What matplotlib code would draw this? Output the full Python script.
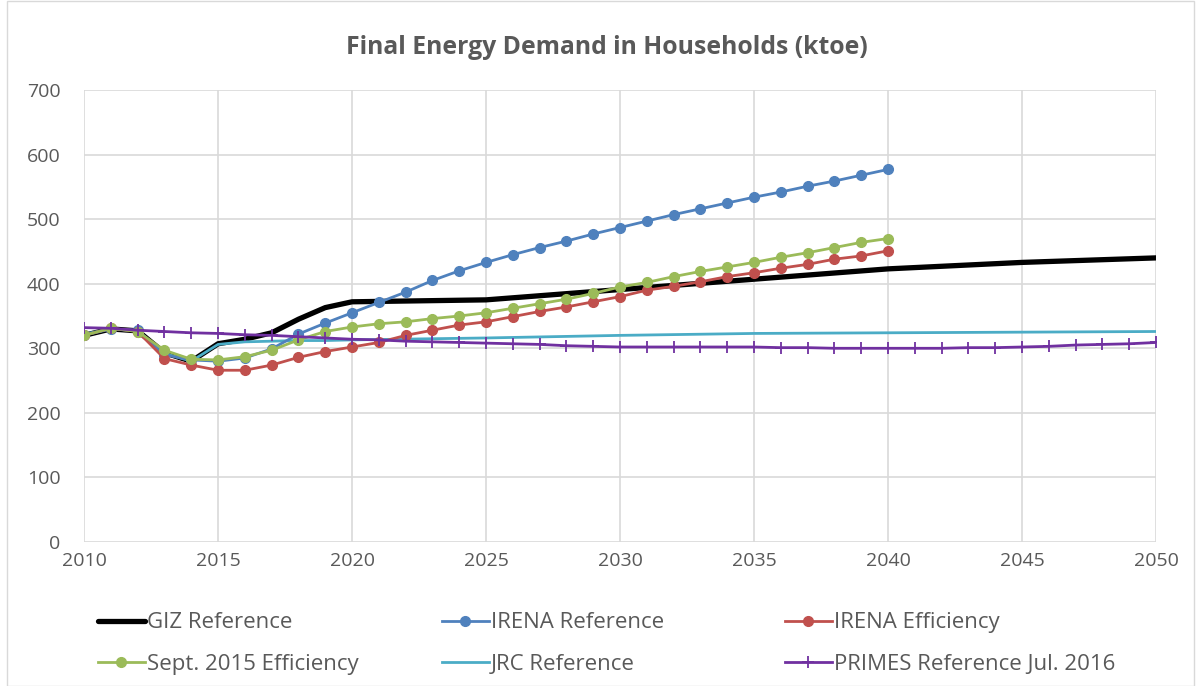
import matplotlib
matplotlib.use("Agg")
import matplotlib.pyplot as plt
from matplotlib.patches import Rectangle

plt.rcParams['font.family'] = ['Open Sans', 'DejaVu Sans']

# GIZ Reference (smooth black line)
giz_years = [2010, 2011, 2012, 2013, 2014, 2015, 2016, 2017, 2018, 2019, 2020,
             2025, 2030, 2035, 2040, 2045, 2050]
giz_vals = [320, 330, 327, 293, 280, 307, 314, 324, 345, 363, 372,
            375, 391, 407, 423, 433, 440]

# IRENA series, yearly 2010-2040
irena_years = list(range(2010, 2041))
irena_ref = [320, 330, 328, 290, 282, 280, 285, 299, 322, 339, 355,
             371, 387, 405, 420, 433, 445, 456, 466, 477, 487,
             497, 507, 516, 525, 534, 542, 551, 559, 568, 577]
irena_eff = [320, 331, 326, 284, 274, 266, 266, 274, 286, 295, 302,
             309, 320, 328, 336, 341, 349, 357, 364, 372, 380,
             390, 396, 403, 411, 417, 424, 430, 438, 443, 451]
sept_eff = [320, 331, 326, 297, 283, 282, 287, 297, 313, 326, 333,
            338, 341, 346, 350, 355, 362, 369, 376, 385, 395,
            402, 411, 419, 426, 433, 441, 448, 456, 464, 470]

# JRC Reference
jrc_years = [2010, 2011, 2012, 2013, 2014, 2015, 2016, 2017, 2018, 2019, 2020,
             2025, 2030, 2035, 2040, 2045, 2050]
jrc_vals = [322, 330, 327, 292, 280, 306, 310, 311, 312, 312, 313,
            316, 320, 323, 324, 325, 326]

# PRIMES Reference Jul. 2016, yearly 2010-2050
primes_years = list(range(2010, 2051))
primes_vals = [332, 331, 328, 326, 324, 323, 321, 320, 318, 316, 314,
               313, 311, 310, 309, 308, 307, 306, 304, 303, 302,
               302, 302, 302, 302, 302, 301, 301, 300, 300, 300,
               300, 300, 301, 301, 302, 303, 305, 306, 307, 309]

fig = plt.figure(figsize=(12.01, 6.86), dpi=100)
ax = fig.add_axes([0.070, 0.2099, 0.8925, 0.6589])

h_giz, = ax.plot(giz_years, giz_vals, color='black', lw=3.8, solid_joinstyle='round',
                 solid_capstyle='round', label='GIZ Reference', zorder=3)
h_iref, = ax.plot(irena_years, irena_ref, color='#4F81BD', lw=2, marker='o', ms=7,
                  label='IRENA Reference', zorder=4)
h_ieff, = ax.plot(irena_years, irena_eff, color='#C0504D', lw=2, marker='o', ms=7,
                  label='IRENA Efficiency', zorder=4)
h_sept, = ax.plot(irena_years, sept_eff, color='#9BBB59', lw=2, marker='o', ms=7,
                  label='Sept. 2015 Efficiency', zorder=5)
h_jrc, = ax.plot(jrc_years, jrc_vals, color='#4BACC6', lw=2, label='JRC Reference', zorder=3)
h_prim, = ax.plot(primes_years, primes_vals, color='#7030A0', lw=2, marker='+', ms=9,
                  mew=1.3, label='PRIMES Reference Jul. 2016', zorder=6)

ax.set_xlim(2010, 2050)
ax.set_ylim(0, 700)
ax.set_xticks(range(2010, 2051, 5))
ax.set_yticks(range(0, 701, 100))
ax.grid(True, color='#D9D9D9', lw=1.2)
ax.set_axisbelow(True)
for s in ax.spines.values():
    s.set_visible(False)
ax.tick_params(axis='both', length=0, labelsize=14, labelcolor='#595959')
ax.tick_params(axis='y', pad=17)
ax.tick_params(axis='x', pad=7)

fig.text(0.5055, 0.931, 'Final Energy Demand in Households (ktoe)', ha='center', va='center',
         fontsize=17.8, fontweight='bold', color='#595959')

# legend: three columns placed like the original
cols = [([h_giz, h_sept], 0.0816), ([h_iref, h_jrc], 0.368), ([h_ieff, h_prim], 0.6536)]
for hs, x0 in cols:
    fig.legend(handles=hs, loc='center left', bbox_to_anchor=(x0, 0.0615),
               frameon=False, fontsize=16, handlelength=2.1, handletextpad=0.1,
               labelspacing=0.93, borderpad=0, borderaxespad=0, labelcolor='#595959')

fig.add_artist(Rectangle((0.006, 0.0), 0.988, 0.998, transform=fig.transFigure,
                         fill=False, edgecolor='#D9D9D9', lw=1))

fig.savefig('out.png', dpi=100)
